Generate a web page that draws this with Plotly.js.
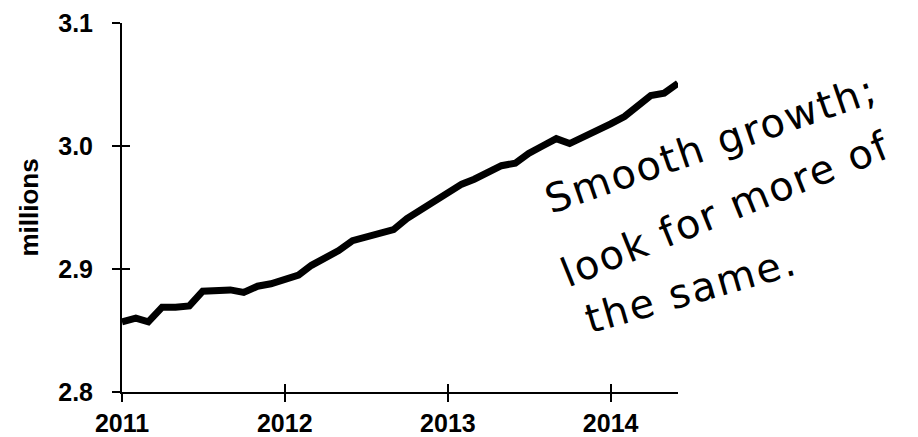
<!DOCTYPE html>
<html>
<head>
<meta charset="utf-8">
<script src="https://cdn.plot.ly/plotly-3.0.1.min.js"></script>
<style>
  html, body { margin: 0; padding: 0; background: #ffffff; }
  #chart { width: 918px; height: 437px; }
</style>
</head>
<body>
<div id="chart"></div>
<script>
// Monthly values, Jan 2011 - Jun 2014 (millions)
const months = [
  '2011-01-01','2011-02-01','2011-03-01','2011-04-01','2011-05-01','2011-06-01',
  '2011-07-01','2011-08-01','2011-09-01','2011-10-01','2011-11-01','2011-12-01',
  '2012-01-01','2012-02-01','2012-03-01','2012-04-01','2012-05-01','2012-06-01',
  '2012-07-01','2012-08-01','2012-09-01','2012-10-01','2012-11-01','2012-12-01',
  '2013-01-01','2013-02-01','2013-03-01','2013-04-01','2013-05-01','2013-06-01',
  '2013-07-01','2013-08-01','2013-09-01','2013-10-01','2013-11-01','2013-12-01',
  '2014-01-01','2014-02-01','2014-03-01','2014-04-01','2014-05-01','2014-06-01'
];
const values = [
  2.857, 2.860, 2.857, 2.869, 2.869, 2.870,
  2.882, 2.883, 2.883, 2.881, 2.886, 2.888,
  2.891, 2.895, 2.903, 2.909, 2.915, 2.923,
  2.926, 2.929, 2.932, 2.941, 2.948, 2.954,
  2.962, 2.969, 2.973, 2.978, 2.984, 2.986,
  2.994, 3.000, 3.006, 3.002, 3.007, 3.013,
  3.018, 3.024, 3.032, 3.041, 3.043, 3.051
];
const yTicks = [2.8, 2.9, 3.0, 3.1];
const yTickText = ['2.8', '2.9', '3.0', '3.1'];
const xTicks = ['2011-01-01', '2012-01-01', '2013-01-01', '2014-01-01'];
const xTickText = ['2011', '2012', '2013', '2014'];
const yTitle = 'millions';
const noteLines = ['Smooth growth;', 'look for more of', 'the same.'];

const xRange = [months[0], months[months.length - 1]];
const yRange = [2.8, 3.1];

const tickFont = { family: 'Liberation Sans, Arial, sans-serif', size: 25, color: '#000', weight: 'bold' };
const noteFont = { family: 'DejaVu Sans, sans-serif', size: 40, color: '#000' };
const spaced = s => '<span style="letter-spacing:2px">' + s + '</span>';

const trace = {
  x: months, y: values, type: 'scatter', mode: 'lines',
  line: { color: '#000', width: 7, shape: 'linear' },
  hoverinfo: 'skip', showlegend: false
};
// transparent copy only so the overlay axes (inner half of the crossing ticks) get drawn
const tickTrace = {
  x: months, y: values, type: 'scatter', mode: 'lines', xaxis: 'x2', yaxis: 'y2',
  line: { color: 'rgba(0,0,0,0)', width: 0 }, opacity: 0,
  hoverinfo: 'skip', showlegend: false
};

const layout = {
  width: 918, height: 437,
  margin: { l: 122, r: 240, t: 23, b: 45 },
  paper_bgcolor: '#fff', plot_bgcolor: '#fff',
  showlegend: false,
  xaxis: {
    type: 'date', range: xRange, tickvals: xTicks, ticktext: xTickText,
    ticks: 'outside', ticklen: 8, tickwidth: 2, tickcolor: '#000',
    showline: true, linecolor: '#000', linewidth: 2,
    showgrid: false, zeroline: false, tickfont: tickFont, ticklabelstandoff: 0
  },
  xaxis2: {
    type: 'date', range: xRange, tickvals: xTicks, overlaying: 'x', anchor: 'y2', side: 'bottom',
    ticks: 'inside', ticklen: 8, tickwidth: 2, tickcolor: '#000',
    showticklabels: false, showline: false, showgrid: false, zeroline: false
  },
  yaxis: {
    range: yRange, tickvals: yTicks, ticktext: yTickText,
    ticks: 'outside', ticklen: 8, tickwidth: 2, tickcolor: '#000',
    showline: true, linecolor: '#000', linewidth: 2,
    showgrid: false, zeroline: false, tickfont: tickFont, ticklabelstandoff: 14,
    title: { text: yTitle, font: { family: 'Liberation Sans, Arial, sans-serif', size: 26, color: '#000', weight: 'bold' }, standoff: 12 }
  },
  yaxis2: {
    range: yRange, tickvals: yTicks, overlaying: 'y', anchor: 'x2', side: 'left',
    ticks: 'inside', ticklen: 8, tickwidth: 2, tickcolor: '#000',
    showticklabels: false, showline: false, showgrid: false, zeroline: false
  },
  annotations: [
    { text: spaced(noteLines[0]), xref: 'paper', yref: 'paper', x: 1.060, y: 0.672, xanchor: 'center', yanchor: 'middle', textangle: -19, showarrow: false, font: noteFont },
    { text: spaced(noteLines[1]), xref: 'paper', yref: 'paper', x: 1.085, y: 0.495, xanchor: 'center', yanchor: 'middle', textangle: -22, showarrow: false, font: noteFont },
    { text: spaced(noteLines[2]), xref: 'paper', yref: 'paper', x: 1.024, y: 0.276, xanchor: 'center', yanchor: 'middle', textangle: -16, showarrow: false, font: noteFont }
  ]
};

Plotly.newPlot('chart', [trace, tickTrace], layout, { displayModeBar: false, staticPlot: true });
</script>
</body>
</html>
